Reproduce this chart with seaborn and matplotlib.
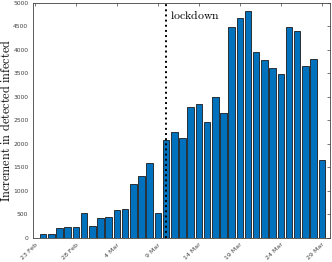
import numpy as np
import pandas as pd
import matplotlib
matplotlib.use("Agg")
import matplotlib.pyplot as plt
import seaborn as sns

# ---- data ----
start_date = "2020-02-23"
bar_dates = pd.date_range("2020-02-24", "2020-03-29", freq="D")
increments = [90, 74, 203, 233, 228, 528, 258, 428, 443, 590, 620, 1145, 1326, 1598,
              529, 2076, 2249, 2116, 2795, 2853, 2470, 2989, 2648, 4480, 4670, 4821,
              3957, 3780, 3612, 3491, 4492, 4401, 3651, 3815, 1648]
tick_labels = ["23 Feb", "28 Feb", "4 Mar", "9 Mar", "14 Mar", "19 Mar", "24 Mar", "29 Mar"]
tick_dates = ["2020-02-23", "2020-02-28", "2020-03-04", "2020-03-09",
              "2020-03-14", "2020-03-19", "2020-03-24", "2020-03-29"]
lockdown_date = "2020-03-10"
y_ticks = list(range(0, 5001, 500))

t0 = pd.Timestamp(start_date)
df = pd.DataFrame({
    "day": [(d - t0).days for d in bar_dates],
    "inc": increments,
})
tick_pos = [(pd.Timestamp(d) - t0).days for d in tick_dates]
lock_pos = (pd.Timestamp(lockdown_date) - t0).days

sns.set_style("white")
plt.rcParams["mathtext.fontset"] = "cm"
axcol = "#404040"

fig = plt.figure(figsize=(3.32, 2.62), dpi=100)
ax = fig.add_axes([0.100, 0.092, 0.894, 0.897])

sns.barplot(data=df, x="day", y="inc", native_scale=True, color="#0072BD",
            saturation=1, edgecolor="#1a1a1a", linewidth=0.6, width=0.8, ax=ax)

ax.axvline(lock_pos, color="black", linestyle=":", linewidth=1.4)
ax.text(lock_pos + 0.5, 4870, r"$\mathrm{lockdown}$", fontsize=8.5, va="top", ha="left",
        color="black")

ax.set_xlim(-0.2, 36)
ax.set_ylim(0, 5000)
ax.set_xticks(tick_pos)
ax.set_xticklabels(tick_labels, rotation=45, ha="right", rotation_mode="anchor",
                   fontsize=4.5, color=axcol)
ax.set_yticks(y_ticks)
ax.set_yticklabels([str(v) for v in y_ticks], fontsize=4.3, color=axcol)
ax.set_xlabel("")
ax.set_ylabel(r"$\mathrm{Increment\ in\ detected\ infected}$", fontsize=8.8, color="black")
ax.yaxis.set_label_coords(-0.069, 0.5)

ax.tick_params(axis="both", direction="in", length=2.5, width=0.5, colors=axcol,
               top=True, right=True)
ax.tick_params(axis="y", pad=3.5)
ax.tick_params(axis="x", pad=3)
for s in ax.spines.values():
    s.set_visible(True)
    s.set_color(axcol)
    s.set_linewidth(0.6)

fig.savefig("out.png", dpi=100)
